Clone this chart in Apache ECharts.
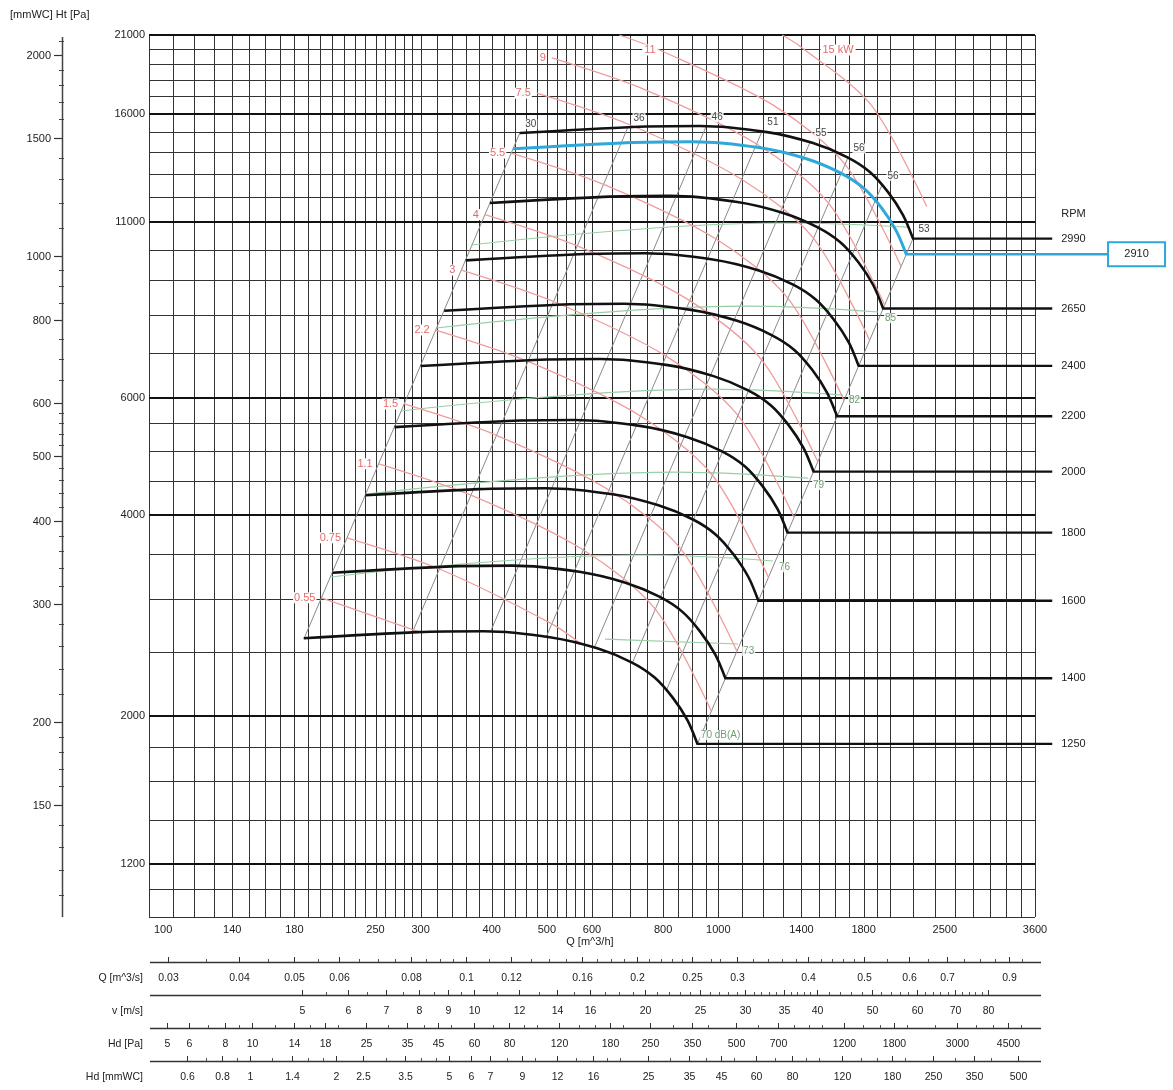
<!DOCTYPE html>
<html><head><meta charset="utf-8">
<script src="https://cdn.jsdelivr.net/npm/echarts@6.0.0/dist/echarts.min.js"></script>
<style>html,body{margin:0;padding:0;background:#fff}#c{width:1173px;height:1090px}</style>
</head><body><div id="c"></div>
<script>
// ---------------- DATA ----------------
const Q_MIN = 100, Q_MAX = 3600, P_MIN = 1000, P_MAX = 21000;
const xTickVals = [100,140,180,250,300,400,500,600,800,1000,1400,1800,2500,3600];
const xTickText = ['100','140','180','250','300','400','500','600','800','1000','1400','1800','2500','3600'];
const yTickVals = [21000,16000,11000,6000,4000,2000,1200];
const gridQ = [100,110,120,130,140,150,160,170,180,190,200,210,220,230,240,250,260,270,280,290,300,320,340,360,380,400,420,440,460,480,500,520,540,560,580,600,650,700,750,800,850,900,950,1000,1100,1200,1300,1400,1500,1600,1700,1800,1900,2000,2200,2400,2600,2800,3000,3200,3400,3600];
const gridP = [1000,1100,1200,1400,1600,1800,2000,2500,3000,3500,4000,4500,5000,5500,6000,7000,8000,9000,10000,11000,12000,13000,14000,15000,16000,17000,18000,19000,20000,21000];
const mmMajor = [2000,1500,1000,800,600,500,400,300,200,150];
const mmMinor = [2100,1900,1800,1700,1600,1400,1300,1200,1100,950,900,850,750,700,650,580,560,540,520,480,460,440,420,380,360,340,320,280,260,240,220,190,180,170,160,140,130,120,110];

// fan curves (Q m3/h, Ht Pa)
const q2990 = [448,708,928,1218,1467,1683,1848,1987,2111,2198];
const p2990 = [14970,15290,15340,15020,14460,13780,13080,12210,11280,10400];
const q2910 = [436,689,903,1185,1428,1638,1798,1934,2054,2139];
const p2910 = [14180,14480,14530,14230,13700,13050,12390,11570,10680,9850];
const q2650 = [397,628,823,1080,1300,1492,1638,1761,1871,1948];
const p2650 = [11760,12010,12050,11800,11360,10820,10270,9590,8860,8170];
const q2400 = [360,568,745,978,1178,1351,1483,1595,1695,1764];
const p2400 = [9645,9851,9884,9677,9317,8878,8427,7867,7268,6701];
const q2200 = [330,521,683,896,1079,1238,1360,1462,1553,1617];
const p2200 = [8105,8278,8305,8132,7829,7460,7082,6611,6107,5631];
const q2000 = [300,474,621,815,981,1126,1236,1329,1412,1470];
const p2000 = [6698,6841,6863,6720,6469,6165,5852,5463,5047,4653];
const q1800 = [270,426,559,733,883,1013,1113,1196,1271,1323];
const p1800 = [5425,5541,5559,5443,5240,4994,4740,4425,4088,3769];
const q1600 = [240,379,497,652,785,901,989,1063,1130,1176];
const p1600 = [4287,4379,4393,4302,4141,3947,3746,3497,3231,2979];
const q1400 = [210,332,435,570,687,788,865,930,988,1029];
const p1400 = [3281,3352,3363,3292,3170,3021,2867,2676,2473,2280];
const q1250 = [187,296,388,509,613,704,773,831,883,919];
const p1250 = [2617,2673,2681,2625,2528,2409,2286,2134,1972,1818];
const rpmNames = ['2990','2650','2400','2200','2000','1800','1600','1400','1250'];
const tailEndQ = 3860;
const blueName = '2910';
const blueTailEndQ = 4818;

// efficiency (grey) lines: top point on 2990 curve, bottom point on 1250 curve
const effTop = [[448,14970],[694,15280],[952,15320],[1193,15050],[1449,14500],[1690,13760],[1939,12520],[2198,10400]];
const effBot = [[187.3,2617],[290.2,2671],[398,2678],[498.8,2631],[605.8,2535],[706.6,2405],[810.7,2188],[919,1818]];
const effLabels = ['30','36','46','51','55','56','56','53'];

// shaft power lines (kW)
const kw055 = [[200.9,3010],[299,2673]];
const kw075 = [[222.8,3702],[323.7,3324],[510,2751],[576,2561]];
const kw11  = [[253.2,4780],[367.7,4289],[579.4,3550],[775,2894],[972.4,2035]];
const kw15  = [[280.7,5876],[407.7,5274],[642.6,4366],[859.7,3561],[1078.3,2503]];
const kw22  = [[318.9,7585],[463.2,6806],[730.1,5637],[976.5,4594],[1224.9,3230]];
const kw3   = [[353.7,9329],[513.6,8369],[809.6,6931],[1082.8,5648],[1358.4,3972]];
const kw4   = [[389.2,11299],[565.3,10140],[891.1,8396],[1191.8,6843],[1495.3,4813]];
const kw55  = [[432.8,13972],[628.7,12540],[990.9,10383],[1325.3,8462],[1662.8,5952]];
const kw75  = [[479.9,17181],[697.1,15418],[1098.6,12762],[1469.8,10408],[1844.3,7323]];
const kw9   = [[510,19401],[740.8,17409],[1167.6,14416],[1561.9,11752],[1959.5,8266]];
const kw11b = [[670,21000],[792.1,19904],[1248.5,16483],[1670,13437],[2095,9449]];
const kw15b = [[1295,21000],[1384,20265],[1852,16523],[2323,11620]];
const kwLabelsLeft = [[200.9,3010,'0.55'],[222.8,3702,'0.75'],[253.2,4780,'1.1'],[280.7,5876,'1.5'],[318.9,7585,'2.2'],[353.7,9329,'3'],[389.2,11299,'4'],[432.8,13972,'5.5'],[479.9,17181,'7.5'],[510,19401,'9']];
const kwLabelsTop = [[758.6,19940,'11'],[1623,19940,'15 kW']];

// noise lines and labels dB(A)
const db88 = [[367.8,10173],[1284,10977],[2154,10821]];
const db85 = [[319.2,7636],[1114,8238],[1908,8071]];
const db82 = [[277.2,5735],[967,6186],[1656,6059]];
const db79 = [[240.6,4305],[839.3,4645],[1438,4549]];
const db76 = [[208.7,3234],[728.7,3488],[1248,3417]];
const db73 = [[632.4,2610],[1083,2566]];
const noiseLabels = [[928,1875,'70 dB(A)'],[1101,2503,'73'],[1273,3344,'76'],[1461,4441,'79'],[1690,5956,'82'],[1955,7900,'85']];

// bottom auxiliary scales
const rowQsLabels = [0.03,0.04,0.05,0.06,0.08,0.1,0.12,0.16,0.2,0.25,0.3,0.4,0.5,0.6,0.7,0.9];
const rowQsMinor = [0.035,0.045,0.055,0.065,0.07,0.075,0.085,0.09,0.095,0.11,0.13,0.14,0.15,0.17,0.18,0.19,0.21,0.22,0.23,0.24,0.27,0.28,0.32,0.34,0.36,0.38,0.42,0.44,0.46,0.48,0.55,0.65,0.75,0.8,0.85,0.95];
const rowVLabels = [5,6,7,8,9,10,12,14,16,20,25,30,35,40,50,60,70,80];
const rowVMinor = [5.5,6.5,7.5,8.5,9.5,11,13,15,17,18,19,21,22,23,24,26,27,28,29,31,32,33,34,36,37,38,39,42,44,46,48,52,54,56,58,62,64,66,68,72,74,76,78];
const rowHdLabels = [5,6,8,10,14,18,25,35,45,60,80,120,180,250,350,500,700,1200,1800,3000,4500];
const rowHdMinor = [7,9,12,16,20,30,40,50,70,90,100,140,160,200,300,400,600,800,900,1000,1400,1600,2000,2500,3500,4000,5000];
const rowMmLabels = [0.6,0.8,1,1.4,2,2.5,3.5,5,6,7,9,12,16,25,35,45,60,80,120,180,250,350,500];
const rowMmMinor = [0.7,0.9,1.2,1.6,1.8,3,4,4.5,8,10,14,18,20,30,40,50,70,90,100,140,160,200,300,400];

// ---------------- CHART ----------------
const FONT = '"Liberation Sans", Arial, sans-serif';
const font = s => s + 'px ' + FONT;
const series = [];
const snap = v => Math.round(v) + 0.5;

// vertical grid lines
series.push({type:'custom', xAxisIndex:0, yAxisIndex:0, z:1, silent:true,
  data: gridQ.map(v => [v, P_MIN]),
  renderItem: (p, api) => { const v = gridQ[p.dataIndex]; const a = api.coord([v, P_MIN]), b = api.coord([v, P_MAX]); const x = snap(a[0]);
    return {type:'line', shape:{x1:x, y1:a[1], x2:x, y2:b[1]}, style:{stroke:'#333', lineWidth:1}}; }});
// horizontal grid lines
series.push({type:'custom', xAxisIndex:0, yAxisIndex:0, z:1, silent:true,
  data: gridP.map(v => [Q_MIN, v]),
  renderItem: (p, api) => { const v = gridP[p.dataIndex]; const a = api.coord([Q_MIN, v]), b = api.coord([Q_MAX, v]);
    const major = yTickVals.indexOf(v) >= 0; const y = major ? Math.round(a[1]) : snap(a[1]);
    return {type:'line', shape:{x1:a[0], y1:y, x2:b[0], y2:y}, style:{stroke: major ? '#111' : '#333', lineWidth: major ? 2.2 : 1}}; }});

function textSeries(gi, items, o) {
  return {type:'custom', xAxisIndex:gi, yAxisIndex:gi, z:o.z || 20, silent:true, clip:false,
    data: items.map(it => [it[0], it[1]]),
    renderItem: (p, api) => { const it = items[p.dataIndex]; const c = api.coord([it[0], it[1]]);
      return {type:'text', x:c[0] + (o.dx || 0), y:c[1] + (o.dy || 0), z2: 10,
        style:{text:String(it[2]), fill:o.color || '#222', font:font(o.size || 11), align:o.align || 'center', verticalAlign:'middle',
          backgroundColor:o.bg, padding:o.pad}}; }};
}

// axis labels main
series.push(textSeries(0, xTickVals.slice(1).map((v,i) => [v, P_MIN, xTickText[i+1]]), {dy:13, color:'#222', size:11}));
series.push(textSeries(0, [[xTickVals[0], P_MIN, xTickText[0]]], {dy:13, dx:5, align:'left', color:'#222', size:11}));
series.push(textSeries(0, [[595, P_MIN, 'Q [m^3/h]']], {dy:25, color:'#222', size:11}));
series.push(textSeries(0, yTickVals.map(v => [Q_MIN, v, String(v)]), {dx:-4, align:'right', color:'#222', size:11}));

// efficiency (grey) lines
effTop.forEach((t, i) => {
  series.push({type:'line', xAxisIndex:0, yAxisIndex:0, z:3, silent:true, showSymbol:false,
    data:[t, effBot[i]], lineStyle:{color:'#8a8a8a', width:1}});
});

// noise lines
[db88,db85,db82,db79,db76,db73].forEach(d => {
  series.push({type:'line', xAxisIndex:0, yAxisIndex:0, z:3, silent:true, showSymbol:false, smooth:0.4,
    data:d, lineStyle:{color:'#98cfa4', width:1.1}});
});

// power lines
[kw055,kw075,kw11,kw15,kw22,kw3,kw4,kw55,kw75,kw9,kw11b,kw15b].forEach(d => {
  series.push({type:'line', xAxisIndex:0, yAxisIndex:0, z:4, silent:true, showSymbol:false, smooth:0.3,
    data:d, lineStyle:{color:'#ef9c9c', width:1.3}});
});

// fan curves
const curveQ = [q2990,q2650,q2400,q2200,q2000,q1800,q1600,q1400,q1250];
const curveP = [p2990,p2650,p2400,p2200,p2000,p1800,p1600,p1400,p1250];
const tailItems = curveQ.map((qs, k) => [qs[qs.length-1], curveP[k][curveP[k].length-1]]);
curveQ.forEach((qs, k) => {
  const ps = curveP[k];
  series.push({type:'line', xAxisIndex:0, yAxisIndex:0, z:8, silent:true, showSymbol:false, smooth:0.3,
    data: qs.map((q,i) => [q, ps[i]]), lineStyle:{color:'#111', width:2.6}});
});
// horizontal tails (run past the plot frame to the RPM labels)
series.push({type:'custom', xAxisIndex:0, yAxisIndex:0, z:8, silent:true, clip:false, data: tailItems,
  renderItem: (p, api) => { const t = tailItems[p.dataIndex]; const a = api.coord(t), b = api.coord([tailEndQ, t[1]]);
    return {type:'line', shape:{x1:a[0]-1, y1:a[1], x2:b[0], y2:a[1]}, style:{stroke:'#111', lineWidth:2.4}}; }});
// blue curve
const blueEnd = [q2910[q2910.length-1], p2910[p2910.length-1]];
series.push({type:'line', xAxisIndex:0, yAxisIndex:0, z:9, silent:true, showSymbol:false, smooth:0.3,
  data: q2910.map((q,i) => [q, p2910[i]]), lineStyle:{color:'#2ea8d8', width:3}});
series.push({type:'custom', xAxisIndex:0, yAxisIndex:0, z:21, silent:true, clip:false,
  data:[blueEnd],
  renderItem: (p, api) => { const a = api.coord(blueEnd), c = api.coord([blueTailEndQ, blueEnd[1]]);
    return {type:'group', children:[
      {type:'line', shape:{x1:a[0]-1, y1:a[1], x2:c[0]+1, y2:a[1]}, style:{stroke:'#2ea8d8', lineWidth:2.6}},
      {type:'rect', shape:{x:c[0]+1, y:c[1]-12, width:57, height:24}, style:{fill:'#fff', stroke:'#2ea8d8', lineWidth:2}},
      {type:'text', x:c[0]+29.5, y:c[1], style:{text:blueName, fill:'#222', font:font(11), align:'center', verticalAlign:'middle'}}]}; }});

// RPM labels
series.push(textSeries(0, tailItems.map((t,k) => [tailEndQ, t[1], rpmNames[k]]), {dx:9, align:'left', color:'#222', size:11}));
series.push(textSeries(0, [[tailEndQ, p2990[p2990.length-1], 'RPM']], {dx:9, dy:-25, align:'left', color:'#222', size:11}));

// efficiency labels
series.push(textSeries(0, effTop.map((t,i) => [t[0], t[1], effLabels[i]]), {dx:11, dy:-9, color:'#444', size:10, bg:'rgba(255,255,255,0.85)', pad:[0,1]}));
// kW labels
series.push(textSeries(0, kwLabelsLeft, {dx:-5, align:'right', color:'#e36b6b', size:11, bg:'#fff', pad:[0,1]}));
series.push(textSeries(0, kwLabelsTop, {color:'#e36b6b', size:11, bg:'#fff', pad:[0,2]}));
// noise labels
series.push(textSeries(0, noiseLabels, {align:'left', color:'#6f9f6f', size:10, bg:'rgba(255,255,255,0.85)', pad:[0,1]}));

// left mmWC axis (grid 1)
const MM_MIN = 101.94, MM_MAX = 2140.7;
series.push({type:'custom', xAxisIndex:1, yAxisIndex:1, z:5, silent:true, data:[[1, MM_MIN]],
  renderItem: (p, api) => { const a = api.coord([1, MM_MIN]), b = api.coord([1, MM_MAX]); const x = snap(a[0]);
    return {type:'line', shape:{x1:x, y1:a[1], x2:x, y2:b[1]+2}, style:{stroke:'#444', lineWidth:1.5}}; }});
series.push({type:'custom', xAxisIndex:1, yAxisIndex:1, z:5, silent:true, data: mmMinor.map(v => [1, v]),
  renderItem: (p, api) => { const c = api.coord([1, mmMinor[p.dataIndex]]); const y = snap(c[1]);
    return {type:'line', shape:{x1:c[0]-3, y1:y, x2:c[0]+2, y2:y}, style:{stroke:'#444', lineWidth:1}}; }});
series.push({type:'custom', xAxisIndex:1, yAxisIndex:1, z:5, silent:true, data: mmMajor.map(v => [1, v]),
  renderItem: (p, api) => { const c = api.coord([1, mmMajor[p.dataIndex]]); const y = snap(c[1]);
    return {type:'group', children:[
      {type:'line', shape:{x1:c[0]-8, y1:y, x2:c[0], y2:y}, style:{stroke:'#333', lineWidth:1.2}},
      {type:'text', x:c[0]-11, y:y, style:{text:String(mmMajor[p.dataIndex]), fill:'#222', font:font(11), align:'right', verticalAlign:'middle'}}]}; }});

// bottom auxiliary rows
const rows = [
  {name:'Q [m^3/s]', y:962, min:0.027778, max:1.0, labels:rowQsLabels, minor:rowQsMinor},
  {name:'v [m/s]', y:995, min:2.6882, max:96.774, labels:rowVLabels, minor:rowVMinor},
  {name:'Hd [Pa]', y:1028, min:4.3358, max:5619.2, labels:rowHdLabels, minor:rowHdMinor},
  {name:'Hd [mmWC]', y:1061, min:0.44198, max:572.8, labels:rowMmLabels, minor:rowMmMinor}
];
const grids = [
  {left:149, width:886, top:35, height:882},
  {left:40, width:22, top:35, height:882}
];
const xAxes = [
  {gridIndex:0, type:'log', logBase:10, min:Q_MIN, max:Q_MAX, show:false},
  {gridIndex:1, type:'value', min:0, max:1, show:false}
];
const yAxes = [
  {gridIndex:0, type:'log', logBase:10, min:P_MIN, max:P_MAX, show:false},
  {gridIndex:1, type:'log', logBase:10, min:MM_MIN, max:MM_MAX, show:false}
];
rows.forEach((r, k) => {
  const gi = 2 + k;
  grids.push({left:149, width:886, top:r.y - 1, height:1});
  xAxes.push({gridIndex:gi, type:'log', logBase:10, min:r.min, max:r.max, show:false});
  yAxes.push({gridIndex:gi, type:'value', min:0, max:1, show:false});
  series.push({type:'custom', xAxisIndex:gi, yAxisIndex:gi, z:5, silent:true, clip:false, data:[[r.min, 0]],
    renderItem: (p, api) => { const a = api.coord([r.min, 0]), b = api.coord([r.max, 0]); const y = snap(a[1]);
      return {type:'group', children:[
        {type:'line', shape:{x1:a[0]+1, y1:y, x2:b[0]+6, y2:y}, style:{stroke:'#333', lineWidth:1.6}},
        {type:'text', x:143, y:y+16, style:{text:r.name, fill:'#222', font:font(10.5), align:'right', verticalAlign:'middle'}}]}; }});
  series.push({type:'custom', xAxisIndex:gi, yAxisIndex:gi, z:5, silent:true, clip:false, data:r.minor.map(v => [v, 0]),
    renderItem: (p, api) => { const c = api.coord([r.minor[p.dataIndex], 0]); const x = snap(c[0]);
      return {type:'line', shape:{x1:x, y1:c[1]-3, x2:x, y2:c[1]}, style:{stroke:'#555', lineWidth:1}}; }});
  series.push({type:'custom', xAxisIndex:gi, yAxisIndex:gi, z:5, silent:true, clip:false, data:r.labels.map(v => [v, 0]),
    renderItem: (p, api) => { const v = r.labels[p.dataIndex]; const c = api.coord([v, 0]); const x = snap(c[0]);
      return {type:'group', children:[
        {type:'line', shape:{x1:x, y1:c[1]-5, x2:x, y2:c[1]}, style:{stroke:'#333', lineWidth:1}},
        {type:'text', x:x, y:c[1]+16, style:{text:String(v), fill:'#222', font:font(10.5), align:'center', verticalAlign:'middle'}}]}; }});
});

const chart = echarts.init(document.getElementById('c'), null, {renderer:'canvas'});
chart.setOption({
  animation:false,
  backgroundColor:'#fff',
  grid:grids, xAxis:xAxes, yAxis:yAxes,
  graphic:[{type:'text', left:10, top:9, style:{text:'[mmWC] Ht [Pa]', fill:'#222', font:font(11)}}],
  series:series
});
</script></body></html>
